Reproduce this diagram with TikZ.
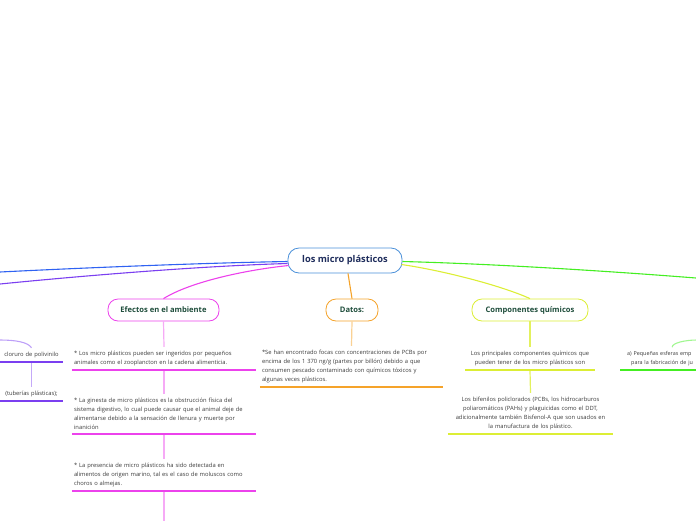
\documentclass[tikz,border=0pt]{standalone}
\usepackage{xcolor}
\usepackage{tikz}
\usetikzlibrary{positioning, calc}
\usepackage{fontspec}
\setmainfont{Open Sans}
\definecolor{mp-blue}{HTML}{4A90D9}
\definecolor{mp-navy}{HTML}{1F2D5C}
\definecolor{mp-title}{HTML}{1E4D3B}
\definecolor{mp-text}{HTML}{3A3A3A}
\definecolor{mp-line}{HTML}{2F62F2}
\definecolor{mp-violet}{HTML}{7B3FF0}
\definecolor{mp-magenta}{HTML}{EC42EC}
\definecolor{mp-orange}{HTML}{F5A32A}
\definecolor{mp-lime}{HTML}{DCEE35}
\definecolor{mp-green}{HTML}{44EE22}

\begin{document}
\begin{tikzpicture}[x=1pt, y=-1pt,
    topic/.style={draw, fill=white, rounded corners=10pt, line width=0.8pt, minimum height=22pt, inner sep=2pt, text=mp-title, font=\fontsize{7.6}{9}\selectfont\bfseries},
    leaf/.style={text width=#1, inner xsep=2pt, inner ysep=4pt, anchor=south, text=mp-text, font=\fontsize{5.8}{9}\selectfont},
    link/.style={line width=1.1pt},
    stem/.style={line width=1.2pt},
    uline/.style={line width=1.5pt}]
    \useasboundingbox (0,0) rectangle (696,520);

    % main topic and branches
    \node (root) [draw=mp-blue, fill=white, rounded corners=11pt, line width=0.8pt, minimum width=114pt, minimum height=25pt, text=mp-navy, font=\fontsize{9.3}{11}\selectfont\bfseries] at (345,260.5) {los micro plásticos};
    \node (efectos) [topic, draw=mp-magenta, minimum width=111pt] at (163.5,310) {Efectos en el ambiente};
    \node (datos) [topic, draw=mp-orange, minimum width=52pt] at (352,310) {Datos:};
    \node (comp) [topic, draw=mp-lime, minimum width=116pt] at (530,310) {Componentes químicos};

    % Efectos en el ambiente
    \node (efe1) [leaf=180pt, align=left] at (164,370) {* Los micro plásticos  pueden ser ingeridos por pequeños\\animales como el zooplancton en la cadena alimenticia.};
    \node (efe2) [leaf=180pt, align=left] at (164,434) {* La ginesta de micro plásticos es la obstrucción física del\\sistema digestivo, lo  cual puede causar que el animal deje de\\alimentarse debido a la sensación de llenura y muerte por\\inanición};
    \node (efe3) [leaf=180pt, align=left] at (164,491) {* La presencia de micro plásticos ha sido detectada en\\alimentos de origen marino, tal es el caso de  moluscos como\\choros o almejas.};

    % Datos
    \node (dat1) [leaf=179pt, align=left] at (351.5,387) {*Se han encontrado focas con concentraciones de PCBs por\\encima de los 1 370 ng/g (partes por billón) debido a que\\consumen pescado contaminado con  químicos tóxicos y\\algunas veces plásticos.};

    % Componentes químicos
    \node (com1) [leaf=126pt, align=center] at (530,370) {Los principales componentes químicos que\\pueden tener  de los micro plásticos son};
    \node (com2) [leaf=161pt, align=center] at (530.5,434) {Los bifenilos policlorados (PCBs,  los  hidrocarburos\\poliaromáticos (PAHs) y plaguicidas como el DDT,\\adicionalmente también Bisfenol-A que son  usados en\\la manufactura de los plástico.};

    % cut off at the sides
    \node (izq1) [leaf=59pt, align=center] at (31.5,362) {cloruro de polivinilo};
    \node (izq2) [leaf=59pt, align=center] at (31.5,401) {(tuberías plásticas);};
    \node (der1) [leaf=90pt, inner xsep=7pt, anchor=south west, align=left, font=\fontsize{5.4}{9}\selectfont] at (620,370) {a) Pequeñas esferas emp\\\hspace*{4pt}para la fabricación de ju};

    \coordinate (offL1) at (0,272);
    \coordinate (offL2) at (0,284);
    \coordinate (offL3) at (0,340);
    \coordinate (offR1) at (696,278);
    \coordinate (offR2) at (697,340);
    \coordinate (offB) at (164,522);

    % branches from the main topic
    \draw[link, mp-line] ($(root.west)+(0,1)$) .. controls (200,263) and (80,268) .. (offL1);
    \draw[link, mp-violet] ($(root.west)+(0,3)$) .. controls (200,266) and (80,276) .. (offL2);
    \draw[link, mp-magenta] ($(root.west)+(1,5)$) .. controls (245,270) and (190,282) .. (efectos.north);
    \draw[link, mp-orange] ($(root.south)+(3,0)$) -- (datos.north);
    \draw[link, mp-lime] ($(root.east)+(-1,4)$) .. controls (440,270) and (500,285) .. (comp.north);
    \draw[link, mp-green] ($(root.east)+(0,1)$) .. controls (500,264) and (620,272) .. (offR1);
    \draw[link, mp-violet!50] (offL3) .. controls (15,340) and (28,342) .. (izq1.north);
    \draw[link, mp-green!50] (offR2) .. controls (685,340) and (672,343) .. (der1.north);

    % stems
    \draw[stem, mp-magenta!45] (efectos.south) -- (efe1.north);
    \draw[stem, mp-magenta!45] (efe1.south) -- (efe2.north);
    \draw[stem, mp-magenta!45] (efe2.south) -- (efe3.north);
    \draw[stem, mp-magenta!45] (efe3.south) -- (offB);
    \draw[stem, mp-orange!50] (datos.south) -- (dat1.north);
    \draw[stem, mp-lime!80] (comp.south) -- (com1.north);
    \draw[stem, mp-lime!80] (com1.south) -- (com2.north);
    \draw[stem, mp-violet!45] (izq1.south) -- (izq2.north);

    % underlines
    \foreach \n in {efe1, efe2, efe3}
        \draw[uline, mp-magenta] (\n.south west) -- (\n.south east);
    \draw[uline, mp-orange] (dat1.south west) -- (dat1.south east);
    \foreach \n in {com1, com2}
        \draw[uline, mp-lime] (\n.south west) -- (\n.south east);
    \foreach \n in {izq1, izq2}
        \draw[uline, mp-violet] (\n.south west) -- (\n.south east);
    \draw[uline, mp-green] (der1.south west) -- (der1.south east);
\end{tikzpicture}
\end{document}
